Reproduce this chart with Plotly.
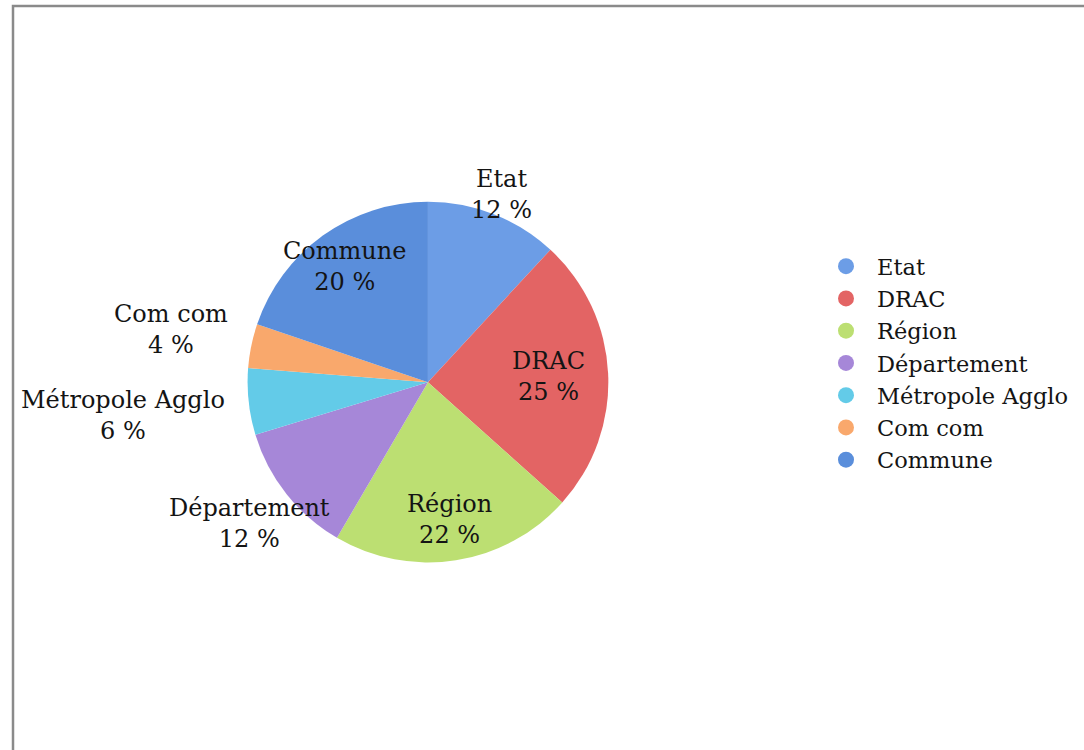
import numpy as np
import plotly.graph_objects as go

# Funding shares by contributor
labels = ["Etat", "DRAC", "Région", "Département", "Métropole Agglo", "Com com", "Commune"]
values = [12, 25, 22, 12, 6, 4, 20]
colors = ["#6c9de6", "#e36464", "#bcdf72", "#a687d8", "#63cbe8", "#f9a86c", "#5a8edb"]

# distance of each label from the pie centre, as a fraction of the radius
label_dist = [1.12, 0.67, 0.77, 1.26, 1.70, 1.455, 0.79]

FONT = "DejaVu Serif"
W, H = 1084, 750
DOM_X = [0.2148, 0.5748]
DOM_Y = [0.250, 0.731]

fig = go.Figure()

fig.add_trace(go.Pie(
    labels=labels,
    values=values,
    sort=False,
    direction="clockwise",
    rotation=0,
    marker=dict(colors=colors, line=dict(width=0)),
    textinfo="none",
    showlegend=False,
    hoverinfo="label+value",
    domain=dict(x=DOM_X, y=DOM_Y),
))

# Slice labels placed along each slice's mid-angle
cx = (DOM_X[0] + DOM_X[1]) / 2 * W
cy = (1 - (DOM_Y[0] + DOM_Y[1]) / 2) * H
radius = (DOM_Y[1] - DOM_Y[0]) * H / 2
vals = np.array(values, dtype=float)
mid = (np.cumsum(vals) - vals / 2) / vals.sum() * 2 * np.pi
annotations = []
for lab, v, a, k in zip(labels, values, mid, label_dist):
    px = cx + np.sin(a) * radius * k
    py = cy - np.cos(a) * radius * k
    annotations.append(dict(
        x=px / W, y=1 - py / H, xref="paper", yref="paper",
        text=f"{lab}<br>{v} %", showarrow=False,
        xanchor="center", yanchor="middle", align="center",
        font=dict(family=FONT, size=24, color="#141414"),
    ))

# Legend entries with round swatches
for lab, col in zip(labels, colors):
    fig.add_trace(go.Scatter(
        x=[None], y=[None], mode="markers", name=lab,
        marker=dict(symbol="circle", size=20, color=col),
        showlegend=True,
    ))

fig.update_layout(
    width=W, height=H,
    margin=dict(l=0, r=0, t=0, b=0, autoexpand=False),
    paper_bgcolor="white",
    plot_bgcolor="white",
    font=dict(family=FONT, size=22.5, color="#141414"),
    xaxis=dict(visible=False),
    yaxis=dict(visible=False),
    legend=dict(
        x=815 / W, y=1 - 245 / H, xanchor="left", yanchor="top",
        font=dict(family=FONT, size=22.5, color="#141414"),
        bgcolor="rgba(0,0,0,0)",
        itemwidth=52,
        tracegroupgap=0,
    ),
    annotations=annotations,
    shapes=[
        # frame around the chart area (left and top edges visible)
        dict(type="rect", xref="paper", yref="paper",
             x0=13 / W, x1=1.02, y0=-0.02, y1=1 - 6 / H,
             line=dict(color="#8a8a8a", width=2.5), fillcolor="rgba(0,0,0,0)",
             layer="below"),
    ],
)

fig.write_html("out.html")
